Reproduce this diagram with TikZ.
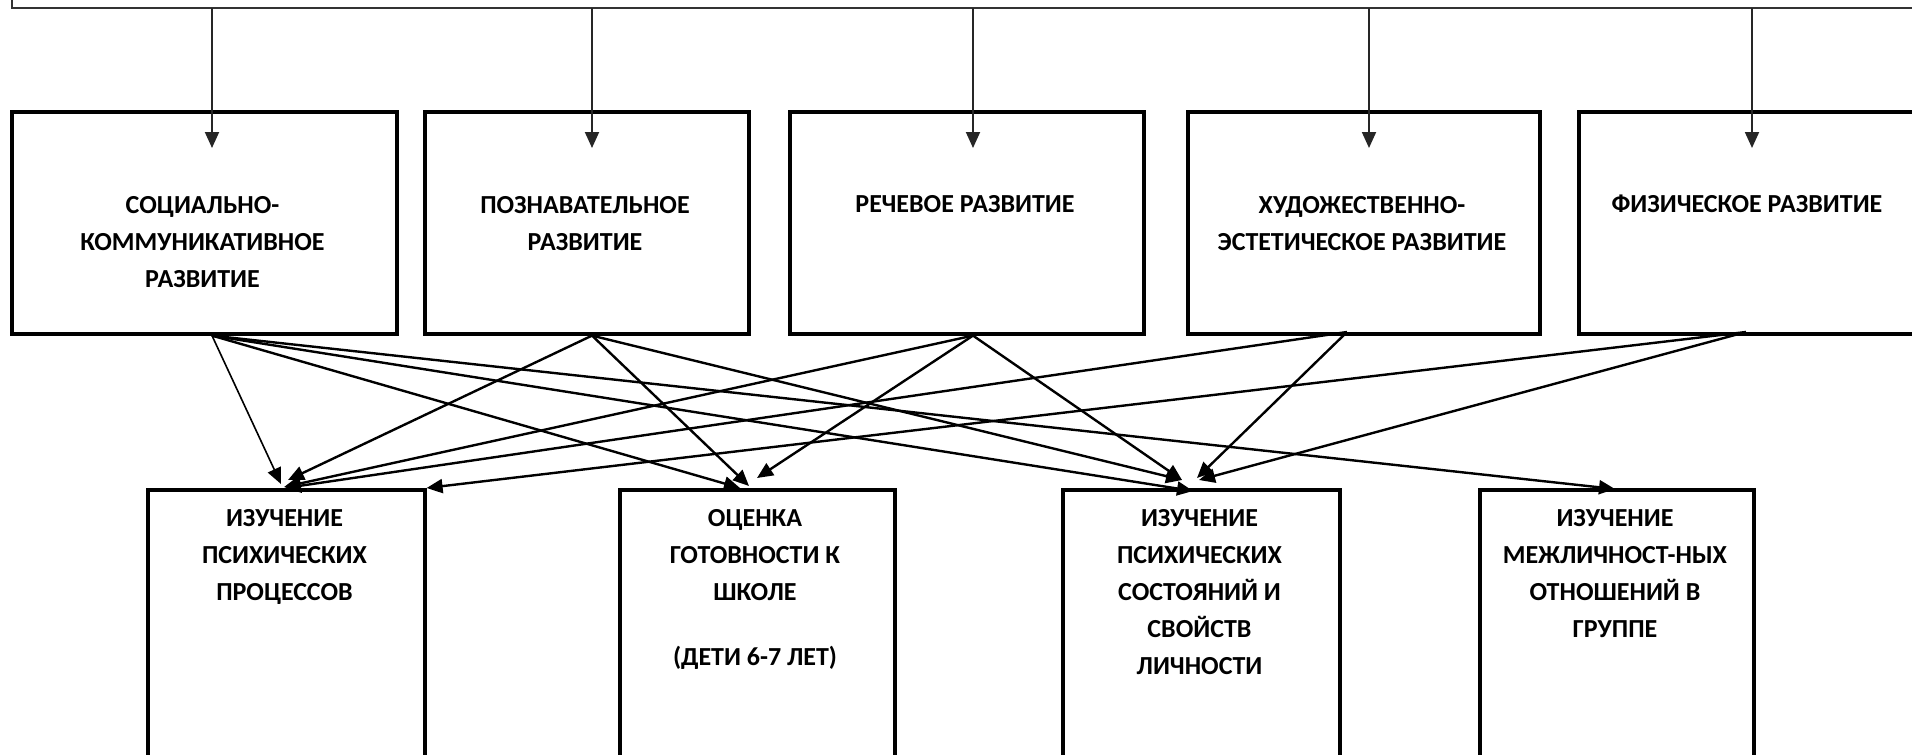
\documentclass[tikz,border=0pt]{standalone}
\usepackage{fontspec}
\setmainfont{Carlito}
\usetikzlibrary{arrows.meta,calc}
\begin{document}
\begin{tikzpicture}[x=1pt,y=-1pt,
  frame/.style={draw=black!80, line width=1.8pt},
  box/.style={draw=black, line width=3.6pt, inner sep=0pt, anchor=north west},
  lbl/.style={font=\fontsize{26}{37}\selectfont\bfseries, align=center, anchor=base, inner sep=0pt},
  tarr/.style={draw=black!85, line width=1.9pt, -{Triangle[length=16pt,width=14pt]}},
  conn/.style={line width=2.4pt, -{Triangle[length=16pt,width=14pt]}},
  thinconn/.style={line width=1.6pt, -{Triangle[length=16pt,width=14pt]}}
]
\useasboundingbox (0,0) rectangle (1912,755);
\clip (0,0) rectangle (1912,755);

% top frame (bottom edge of a box cut by the page)
\draw[frame] (12,-20) -- (12,8) -- (1930,8);

% top row boxes
\node[box, minimum width=385pt, minimum height=222pt] (t1) at (10,110) {};
\node[box, minimum width=324pt, minimum height=222pt] (t2) at (423,110) {};
\node[box, minimum width=354pt, minimum height=222pt] (t3) at (788,110) {};
\node[box, minimum width=352pt, minimum height=222pt] (t4) at (1186,110) {};
\node[box, minimum width=360pt, minimum height=222pt] (t5) at (1577,110) {};

% labels: anchor=base is the baseline of the LAST line
\node[lbl] (l1) at (202.5,287) {СОЦИАЛЬНО-\\КОММУНИКАТИВНОЕ\\РАЗВИТИЕ};
\node[lbl] (l2) at (585,250) {ПОЗНАВАТЕЛЬНОЕ\\РАЗВИТИЕ};
\node[lbl] (l3) at (965,212) {РЕЧЕВОЕ РАЗВИТИЕ};
\node[lbl] (l4) at (1362,250) {ХУДОЖЕСТВЕННО-\\ЭСТЕТИЧЕСКОЕ РАЗВИТИЕ};
\node[lbl] (l5) at (1747,212) {ФИЗИЧЕСКОЕ РАЗВИТИЕ};

% bottom row boxes
\node[box, minimum width=277pt, minimum height=320pt] (b1) at (146,488) {};
\node[box, minimum width=275pt, minimum height=320pt] (b2) at (618,488) {};
\node[box, minimum width=277pt, minimum height=320pt] (b3) at (1061,488) {};
\node[box, minimum width=274pt, minimum height=320pt] (b4) at (1478,488) {};

\node[lbl] (m1) at (284.5,600) {ИЗУЧЕНИЕ\\ПСИХИЧЕСКИХ\\ПРОЦЕССОВ};
\node[lbl] (m2) at (755,665) {ОЦЕНКА\\ГОТОВНОСТИ К\\ШКОЛЕ\\[28pt](ДЕТИ 6-7 ЛЕТ)};
\node[lbl] (m3) at (1199.5,674) {ИЗУЧЕНИЕ\\ПСИХИЧЕСКИХ\\СОСТОЯНИЙ И\\СВОЙСТВ\\ЛИЧНОСТИ};
\node[lbl] (m4) at (1615,637) {ИЗУЧЕНИЕ\\МЕЖЛИЧНОСТ-НЫХ\\ОТНОШЕНИЙ В\\ГРУППЕ};

% arrows from the top frame
\coordinate (s1) at (212,8);   \coordinate (e1) at (212,148);
\coordinate (s2) at (592,8);   \coordinate (e2) at (592,148);
\coordinate (s3) at (973,8);   \coordinate (e3) at (973,148);
\coordinate (s4) at (1369,8);  \coordinate (e4) at (1369,148);
\coordinate (s5) at (1752,8);  \coordinate (e5) at (1752,148);
\foreach \i in {1,...,5} \draw[tarr] (s\i) -- (e\i);

% connector sources
\coordinate (o1) at (t1.south -| s1);
\coordinate (o2) at (t2.south -| s2);
\coordinate (o3) at (t3.south -| s3);
\coordinate (o4) at (1347,332);
\coordinate (o5) at (1746,332);

% connector targets
\coordinate (p11) at (281,484);
\coordinate (p12) at (288,480);
\coordinate (p13) at (284,487);
\coordinate (p14) at (285,488);
\coordinate (p15) at (b1.north east);
\coordinate (p21) at (740,488);
\coordinate (p22) at (749,486);
\coordinate (p23) at (757,478);
\coordinate (p31) at (1193,491);
\coordinate (p32) at (1182,480);
\coordinate (p33) at (1182,480);
\coordinate (p34) at (1197,478);
\coordinate (p35) at (1199,480);
\coordinate (p41) at (1615,489);

\draw[thinconn] (o1) -- (p11);
\draw[conn] (o1) -- (p21);
\draw[conn] (o1) -- (p31);
\draw[conn] (o1) -- (p41);
\draw[conn] (o2) -- (p12);
\draw[conn] (o2) -- (p22);
\draw[conn] (o2) -- (p32);
\draw[conn] (o3) -- (p13);
\draw[conn] (o3) -- (p23);
\draw[conn] (o3) -- (p33);
\draw[conn] (o4) -- (p14);
\draw[conn] (o4) -- (p34);
\draw[conn] (o5) -- (p15);
\draw[conn] (o5) -- (p35);
\end{tikzpicture}
\end{document}
